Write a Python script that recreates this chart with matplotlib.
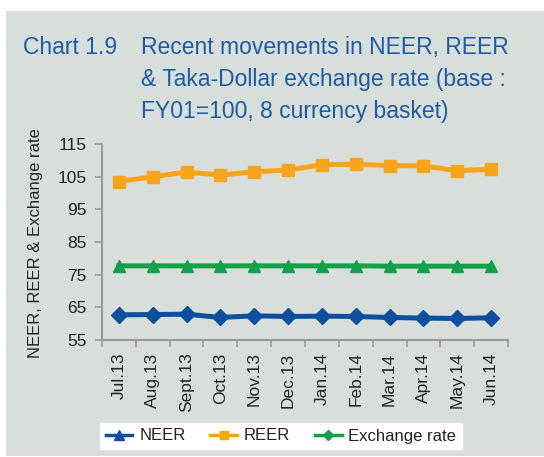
import matplotlib
matplotlib.use("Agg")
import matplotlib.pyplot as plt
from matplotlib.lines import Line2D
from matplotlib.patches import Rectangle
import numpy as np

plt.rcParams['font.family'] = ['Liberation Sans', 'DejaVu Sans']

months = ["Jul.13", "Aug.13", "Sept.13", "Oct.13", "Nov.13", "Dec.13",
          "Jan.14", "Feb.14", "Mar.14", "Apr.14", "May.14", "Jun.14"]
neer = [62.7, 62.8, 62.9, 61.9, 62.4, 62.2, 62.3, 62.2, 61.9, 61.7, 61.6, 61.8]
reer = [103.5, 105.0, 106.4, 105.5, 106.5, 107.0, 108.7, 108.8, 108.4, 108.3, 106.8, 107.3]
exch = [77.7, 77.7, 77.7, 77.7, 77.7, 77.7, 77.7, 77.7, 77.6, 77.6, 77.6, 77.6]
yticks = [55, 65, 75, 85, 95, 105, 115]

W, H = 544, 457
BG = '#d8dfdb'
BLUE = '#0b4f9e'
ORANGE = '#f8a51b'
GREEN = '#12a04b'
TITLE = '#1c5ba6'
TXT = '#222222'

fig = plt.figure(figsize=(W/100, H/100), dpi=100)
fig.patch.set_facecolor('white')
fig.patches.append(Rectangle((6/W, 1-456/H), 1-6/W, (456-11)/H,
                             transform=fig.transFigure, facecolor=BG,
                             edgecolor='none', zorder=-10))

def fx(px):
    return px / W

def fy(py):
    return 1 - py / H

ax = fig.add_axes([fx(102), fy(340), fx(508) - fx(102), fy(144) - fy(340)])
ax.set_facecolor('none')
ax.set_zorder(5)

x = np.arange(len(months))
ax.plot(x, neer, color=BLUE, lw=3.6, marker='D', ms=8)
ax.plot(x, reer, color=ORANGE, lw=3.6, marker='s', ms=9)
ax.plot(x, exch, color=GREEN, lw=3.6, marker='^', ms=9)

ax.set_xlim(-0.5, len(months) - 0.5)
ax.set_ylim(55, 115)
ax.set_yticks(yticks)
ax.set_yticklabels([str(v) for v in yticks], fontsize=12.5, color=TXT)
ax.set_xticks(x)
ax.set_xticklabels(months, rotation=90, fontsize=12.5, color=TXT)
ax.set_xticks(np.arange(len(months) + 1) - 0.5, minor=True)
ax.tick_params(axis='x', which='major', length=0, pad=9)
ax.tick_params(axis='x', which='minor', length=5, color='#999999', width=1.2, direction='out')
ax.tick_params(axis='y', length=5, color='#999999', width=1.2, direction='out', pad=6)
for s in ['top', 'right']:
    ax.spines[s].set_visible(False)
for s in ['left', 'bottom']:
    ax.spines[s].set_color('#999999')
    ax.spines[s].set_linewidth(1.5)

# title
fig.text(fx(23), fy(54), "Chart 1.9", fontsize=16.5, color=TITLE, va='baseline', ha='left')
title_lines = ["Recent movements in NEER, REER",
               "& Taka-Dollar exchange rate (base :",
               "FY01=100, 8 currency basket)"]
for i, line in enumerate(title_lines):
    fig.text(fx(141), fy(54 + 32 * i), line, fontsize=16.5, color=TITLE,
             va='baseline', ha='left')

fig.text(fx(36), fy(243), "NEER, REER & Exchange rate", rotation=90,
         fontsize=12, color=TXT, ha='center', va='center')

handles = [Line2D([], [], color=BLUE, lw=2.5, marker='^', ms=7),
           Line2D([], [], color=ORANGE, lw=2.5, marker='s', ms=6),
           Line2D([], [], color=GREEN, lw=2.5, marker='D', ms=5)]
leg = fig.legend(handles, ["NEER", "REER", "Exchange rate"], loc='center',
                 bbox_to_anchor=(fx(281), fy(436)), ncol=3, fontsize=12,
                 frameon=True, fancybox=False, handlelength=1.6,
                 handletextpad=0.4, columnspacing=1.5, borderpad=0.35)
leg.get_frame().set_facecolor('white')
leg.get_frame().set_edgecolor('white')
leg.get_frame().set_alpha(1)
for t in leg.get_texts():
    t.set_color(TXT)

fig.savefig("out.png", dpi=100, facecolor=fig.get_facecolor())
